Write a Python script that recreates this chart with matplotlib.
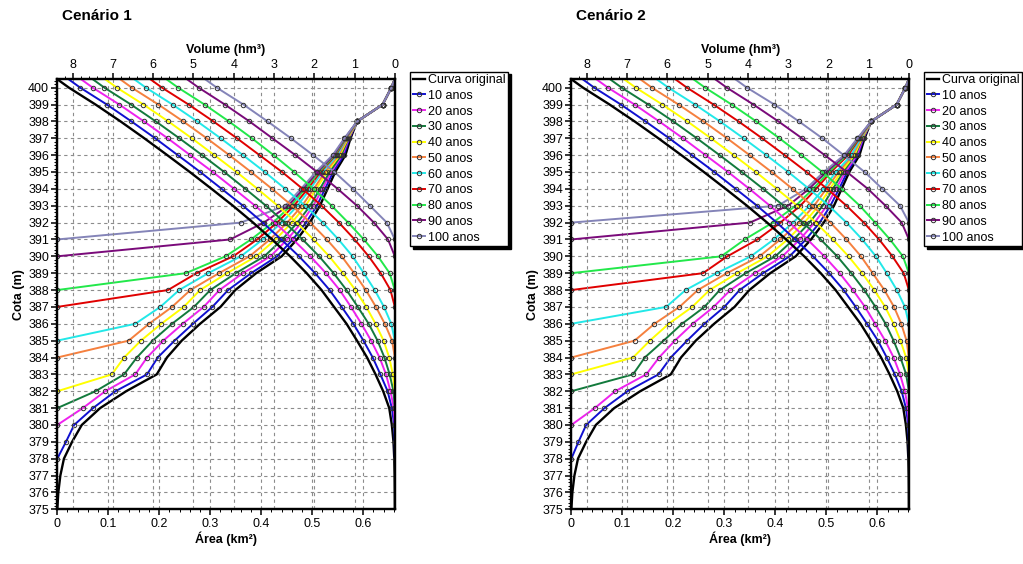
import matplotlib
matplotlib.use("Agg")
import matplotlib.pyplot as plt
from matplotlib.ticker import MultipleLocator, FormatStrFormatter

plt.rcParams['font.family'] = ['Liberation Sans', 'DejaVu Sans']

# cotas (m): 375 ... 400 and the crest
cota = [375, 376, 377, 378, 379, 380, 381, 382, 383, 384, 385, 386, 387,
        388, 389, 390, 391, 392, 393, 394, 395, 396, 397, 398, 399, 400, 400.5]

# original curve
area_orig = [0, 0.002, 0.006, 0.013, 0.029, 0.048, 0.084, 0.135, 0.195, 0.215,
             0.244, 0.28, 0.32, 0.349, 0.39, 0.44, 0.47, 0.495, 0.515, 0.53,
             0.545, 0.565, 0.575, 0.588, 0.638, 0.655, 0.662]
vol_orig = [0, 0.002, 0.006, 0.015, 0.035, 0.075, 0.14, 0.29, 0.48, 0.69, 0.94,
            1.2, 1.51, 1.82, 2.19, 2.6, 3.05, 3.52, 4.02, 4.55, 5.09, 5.65,
            6.22, 6.81, 7.43, 8.09, 8.38]

rotulos = ['10 anos', '20 anos', '30 anos', '40 anos', '50 anos',
           '60 anos', '70 anos', '80 anos', '90 anos', '100 anos']
cores = ['#1010d0', '#ee22ee', '#127a3c', '#ffff00', '#f5803e',
         '#22e8e8', '#e00000', '#22e84a', '#7a0a7a', '#8484b8']

# ---- Cenario 1 : area (km2), each list starts at the silted bottom ----
a1_10 = [0, 0.017, 0.033, 0.07, 0.114, 0.176, 0.197, 0.23, 0.266, 0.304, 0.335,
         0.38, 0.431, 0.462, 0.488, 0.509, 0.525, 0.541, 0.562, 0.573, 0.588,
         0.638, 0.655, 0.662]
a1_20 = [0, 0.05, 0.094, 0.153, 0.176, 0.208, 0.246, 0.287, 0.318, 0.364, 0.418,
         0.451, 0.479, 0.502, 0.52, 0.537, 0.559, 0.572, 0.588, 0.638, 0.655, 0.662]
a1_30 = [0, 0.075, 0.131, 0.156, 0.187, 0.225, 0.268, 0.3, 0.35, 0.406, 0.441,
         0.471, 0.496, 0.515, 0.534, 0.557, 0.571, 0.588, 0.638, 0.655, 0.662]
a1_40 = [0, 0.107, 0.131, 0.164, 0.204, 0.248, 0.28, 0.333, 0.39, 0.428, 0.46,
         0.487, 0.508, 0.529, 0.554, 0.57, 0.588, 0.638, 0.655, 0.662]
a1_50 = [0, 0.14, 0.18, 0.225, 0.261, 0.317, 0.377, 0.417, 0.451, 0.48, 0.503,
         0.525, 0.552, 0.569, 0.588, 0.638, 0.655, 0.662]
a1_60 = [0, 0.153, 0.202, 0.239, 0.296, 0.36, 0.403, 0.44, 0.471, 0.496, 0.52,
         0.549, 0.567, 0.588, 0.638, 0.655, 0.662]
a1_70 = [0, 0.217, 0.273, 0.345, 0.392, 0.431, 0.464, 0.491, 0.516, 0.546, 0.566,
         0.588, 0.638, 0.655, 0.662]
a1_80 = [0, 0.252, 0.33, 0.38, 0.423, 0.458, 0.486, 0.513, 0.544, 0.565, 0.588,
         0.638, 0.655, 0.662]
a1_90 = [0, 0.339, 0.405, 0.453, 0.482, 0.51, 0.542, 0.564, 0.588, 0.638, 0.655, 0.662]
a1_100 = [0, 0.36, 0.447, 0.478, 0.507, 0.54, 0.563, 0.588, 0.638, 0.655, 0.662]

# ---- Cenario 1 : volume (hm3) ----
v1_10 = [0, 0.005, 0.017, 0.075, 0.18, 0.36, 0.55, 0.78, 1.03, 1.32, 1.62, 1.98,
         2.38, 2.82, 3.28, 3.77, 4.3, 4.83, 5.39, 5.95, 6.54, 7.15, 7.81, 8.1]
v1_20 = [0, 0.025, 0.11, 0.22, 0.38, 0.59, 0.83, 1.09, 1.37, 1.71, 2.1, 2.53,
         2.98, 3.47, 3.99, 4.52, 5.08, 5.64, 6.23, 6.84, 7.5, 7.79]
v1_30 = [0, 0.035, 0.13, 0.26, 0.43, 0.65, 0.92, 1.2, 1.52, 1.88, 2.29, 2.73,
         3.2, 3.71, 4.235, 4.785, 5.35, 5.935, 6.55, 7.21, 7.5]
v1_40 = [0, 0.05, 0.14, 0.28, 0.48, 0.71, 0.98, 1.29, 1.63, 2.02, 2.44, 2.91,
         3.41, 3.93, 4.48, 5.04, 5.625, 6.24, 6.9, 7.19]
v1_50 = [0, 0.07, 0.25, 0.47, 0.72, 1.01, 1.32, 1.69, 2.1, 2.55, 3.05, 3.57,
         4.11, 4.67, 5.255, 5.87, 6.53, 6.82]
v1_60 = [0, 0.09, 0.27, 0.5, 0.77, 1.05, 1.4, 1.79, 2.23, 2.72, 3.23, 3.77,
         4.325, 4.905, 5.52, 6.18, 6.47]
v1_70 = [0, 0.11, 0.35, 0.65, 1.0, 1.39, 1.82, 2.29, 2.8, 3.36, 3.92, 4.505,
         5.12, 5.78, 6.07]
v1_80 = [0, 0.13, 0.42, 0.77, 1.16, 1.57, 2.02, 2.5, 3.01, 3.55, 4.12, 4.725,
         5.38, 5.67]
v1_90 = [0, 0.17, 0.52, 0.94, 1.42, 1.93, 2.47, 3.04, 3.61, 4.22, 4.87, 5.16]
v1_100 = [0, 0.2, 0.62, 1.04, 1.5, 2.03, 2.58, 3.16, 3.76, 4.42, 4.71]

# ---- Cenario 2 : area (km2) ----
a2_10 = [0, 0.014, 0.029, 0.065, 0.11, 0.171, 0.195, 0.227, 0.261, 0.3, 0.33,
         0.376, 0.428, 0.46, 0.487, 0.508, 0.525, 0.541, 0.562, 0.573, 0.588,
         0.638, 0.655, 0.662]
a2_20 = [0, 0.046, 0.086, 0.147, 0.172, 0.203, 0.238, 0.279, 0.312, 0.36, 0.414,
         0.448, 0.477, 0.501, 0.519, 0.537, 0.56, 0.572, 0.588, 0.638, 0.655, 0.662]
a2_30 = [0, 0.121, 0.144, 0.181, 0.217, 0.261, 0.291, 0.342, 0.4, 0.436, 0.467,
         0.493, 0.513, 0.533, 0.557, 0.571, 0.588, 0.638, 0.655, 0.662]
a2_40 = [0, 0.121, 0.154, 0.191, 0.237, 0.271, 0.325, 0.385, 0.424, 0.457, 0.485,
         0.507, 0.529, 0.555, 0.57, 0.588, 0.638, 0.655, 0.662]
a2_50 = [0, 0.124, 0.163, 0.212, 0.248, 0.305, 0.369, 0.41, 0.446, 0.476, 0.5,
         0.524, 0.552, 0.569, 0.588, 0.638, 0.655, 0.662]
a2_60 = [0, 0.186, 0.224, 0.285, 0.352, 0.397, 0.435, 0.467, 0.494, 0.519, 0.549,
         0.567, 0.588, 0.638, 0.655, 0.662]
a2_70 = [0, 0.258, 0.306, 0.365, 0.41, 0.449, 0.48, 0.509, 0.543, 0.565, 0.588,
         0.638, 0.655, 0.662]
a2_80 = [0, 0.294, 0.34, 0.395, 0.44, 0.474, 0.505, 0.54, 0.563, 0.588, 0.638,
         0.655, 0.662]
a2_90 = [0, 0.35, 0.425, 0.466, 0.5, 0.537, 0.562, 0.588, 0.638, 0.655, 0.662]
a2_100 = [0, 0.405, 0.46, 0.495, 0.535, 0.561, 0.588, 0.638, 0.655, 0.662]

# ---- Cenario 2 : volume (hm3) ----
v2_10 = [0, 0.005, 0.017, 0.075, 0.18, 0.35, 0.55, 0.77, 1.04, 1.32, 1.62, 1.98,
         2.38, 2.82, 3.28, 3.77, 4.3, 4.83, 5.39, 5.95, 6.54, 7.15, 7.81, 8.1]
v2_20 = [0, 0.025, 0.1, 0.22, 0.38, 0.59, 0.84, 1.09, 1.39, 1.72, 2.1, 2.52,
         2.97, 3.45, 3.96, 4.49, 5.05, 5.61, 6.2, 6.81, 7.47, 7.76]
v2_30 = [0, 0.07, 0.21, 0.38, 0.58, 0.83, 1.11, 1.43, 1.78, 2.19, 2.63, 3.11,
         3.62, 4.15, 4.7, 5.265, 5.85, 6.47, 7.13, 7.42]
v2_40 = [0, 0.07, 0.21, 0.38, 0.59, 0.86, 1.16, 1.5, 1.89, 2.31, 2.77, 3.28,
         3.8, 4.35, 4.915, 5.5, 6.12, 6.78, 7.07]
v2_50 = [0, 0.06, 0.19, 0.37, 0.61, 0.9, 1.19, 1.55, 1.95, 2.4, 2.89, 3.41,
         3.955, 4.515, 5.1, 5.72, 6.38, 6.67]
v2_60 = [0, 0.1, 0.3, 0.55, 0.82, 1.16, 1.55, 1.99, 2.48, 2.995, 3.54, 4.105,
         4.69, 5.31, 5.97, 6.26]
v2_70 = [0, 0.13, 0.41, 0.74, 1.12, 1.55, 2.03, 2.54, 3.085, 3.645, 4.23, 4.85,
         5.51, 5.8]
v2_80 = [0, 0.15, 0.47, 0.84, 1.22, 1.67, 2.15, 2.67, 3.215, 3.79, 4.4, 5.06, 5.35]
v2_90 = [0, 0.18, 0.58, 1.02, 1.54, 2.09, 2.655, 3.24, 3.86, 4.52, 4.81]
v2_100 = [0, 0.22, 0.66, 1.1, 1.62, 2.15, 2.73, 3.34, 4.02, 4.31]

areas1 = [a1_10, a1_20, a1_30, a1_40, a1_50, a1_60, a1_70, a1_80, a1_90, a1_100]
vols1 = [v1_10, v1_20, v1_30, v1_40, v1_50, v1_60, v1_70, v1_80, v1_90, v1_100]
areas2 = [a2_10, a2_20, a2_30, a2_40, a2_50, a2_60, a2_70, a2_80, a2_90, a2_100]
vols2 = [v2_10, v2_20, v2_30, v2_40, v2_50, v2_60, v2_70, v2_80, v2_90, v2_100]

fig = plt.figure(figsize=(10.23, 5.64), dpi=100)


def painel(left, titulo, areas, vols):
    ax = fig.add_axes([left, 0.097, 0.330, 0.7625])
    axv = ax.twiny()

    grade = dict(color='#8c8c8c', linestyle=(0, (3, 3)), linewidth=0.8)
    ax.grid(True, **grade)
    axv.grid(True, axis='x', **grade)
    ax.set_axisbelow(True)

    # original curve
    ax.plot(area_orig, cota, color='black', lw=1.7, label='Curva original')
    axv.plot(vol_orig, cota, color='black', lw=1.7)

    for a, v, cor, rot in zip(areas, vols, cores, rotulos):
        kw = dict(color=cor, lw=1.4, marker='o', ms=3.2, mfc='none',
                  mec='#303030', mew=0.7, markevery=slice(0, -1))
        ax.plot(a, cota[-len(a):], label=rot, **kw)
        axv.plot(v, cota[-len(v):], **kw)

    ax.set_xlim(0, 0.662)
    axv.set_xlim(8.38, 0)
    ax.set_ylim(375, 400.5)

    ax.xaxis.set_major_locator(MultipleLocator(0.1))
    ax.xaxis.set_minor_locator(MultipleLocator(0.02))
    ax.xaxis.set_major_formatter(FormatStrFormatter('%g'))
    ax.yaxis.set_major_locator(MultipleLocator(1))
    ax.yaxis.set_minor_locator(MultipleLocator(0.2))
    axv.xaxis.set_major_locator(MultipleLocator(1))
    axv.xaxis.set_minor_locator(MultipleLocator(0.2))

    for eixo in (ax, axv):
        eixo.tick_params(which='major', direction='out', length=4.5, width=1.1,
                         labelsize=9, pad=1.5)
        eixo.tick_params(which='minor', direction='out', length=2, width=0.7)
        for s in eixo.spines.values():
            s.set_linewidth(1.6)
    ax.tick_params(axis='y', which='both', right=False)

    ax.set_xlabel('Área (km²)', fontweight='bold', fontsize=9, labelpad=1)
    axv.set_xlabel('Volume (hm³)', fontweight='bold', fontsize=9, labelpad=4)
    ax.set_ylabel('Cota (m)', fontweight='bold', fontsize=9, labelpad=2)

    leg = ax.legend(loc='upper left', bbox_to_anchor=(1.045, 1.018),
                    borderaxespad=0, fontsize=9, frameon=True, fancybox=False,
                    edgecolor='black', framealpha=1, labelspacing=0.3,
                    handlelength=1.0, handletextpad=0.25, borderpad=0.2,
                    shadow={'color': 'black', 'alpha': 1})
    leg.get_frame().set_linewidth(1.0)

    fig.text(left + 0.005, 1 - 16 / 564, titulo, fontsize=11,
             fontweight='bold', va='center', ha='left')


painel(0.056, 'Cenário 1', areas1, vols1)
painel(0.5585, 'Cenário 2', areas2, vols2)

plt.savefig('out.png', dpi=100)
